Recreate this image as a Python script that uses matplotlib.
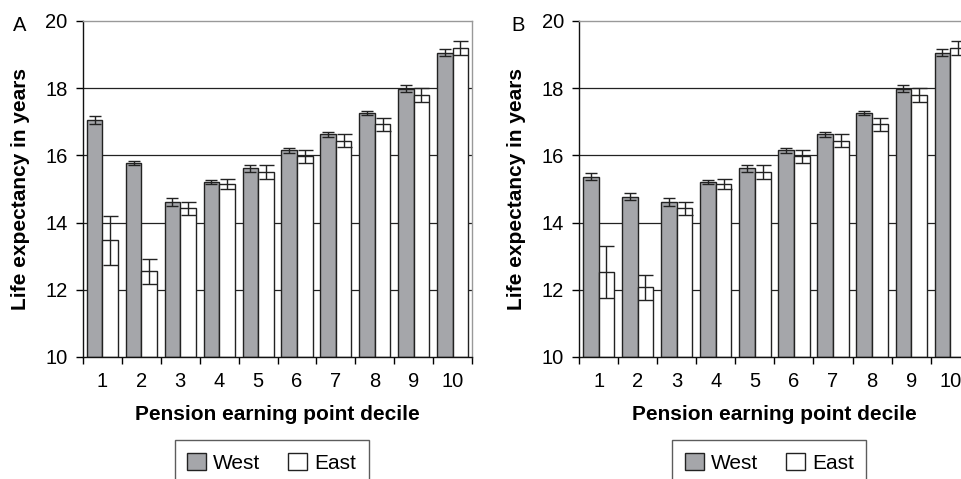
import numpy as np
import matplotlib
matplotlib.use('Agg')
from matplotlib import pyplot as plt

plt.rcParams['font.family'] = ['Liberation Sans', 'DejaVu Sans']

deciles = [1, 2, 3, 4, 5, 6, 7, 8, 9, 10]

# panel A
west_a = [17.05, 15.77, 14.62, 15.22, 15.62, 16.15, 16.63, 17.25, 17.98, 19.06]
west_a_err = [0.11, 0.07, 0.12, 0.06, 0.1, 0.08, 0.08, 0.06, 0.1, 0.1]
east_a = [13.47, 12.55, 14.42, 15.15, 15.5, 15.97, 16.44, 16.92, 17.8, 19.2]
east_a_err = [0.73, 0.38, 0.2, 0.16, 0.2, 0.2, 0.2, 0.19, 0.2, 0.2]

# panel B
west_b = [15.37, 14.77, 14.62, 15.22, 15.62, 16.15, 16.63, 17.25, 17.98, 19.06]
west_b_err = [0.1, 0.1, 0.12, 0.06, 0.1, 0.08, 0.08, 0.06, 0.1, 0.1]
east_b = [12.53, 12.07, 14.42, 15.15, 15.5, 15.97, 16.44, 16.92, 17.8, 19.2]
east_b_err = [0.76, 0.38, 0.2, 0.16, 0.2, 0.2, 0.2, 0.19, 0.2, 0.2]

yticks = [10, 12, 14, 16, 18, 20]
west_color = '#a5a6aa'

fig = plt.figure(figsize=(9.62, 4.79), dpi=100)
ax_a = fig.add_axes([0.0863, 0.2547, 0.4044, 0.7015])
ax_b = fig.add_axes([0.6019, 0.2547, 0.4062, 0.7015])

# letter x position, legend x centre
panels = [(ax_a, 'A', -0.162, 0.4846, west_a, west_a_err, east_a, east_a_err),
          (ax_b, 'B', -0.155, 0.487, west_b, west_b_err, east_b, east_b_err)]

x = np.array(deciles)
w = 0.4
for ax, letter, lx, legx, west, west_err, east, east_err in panels:
    for yv in yticks[1:-1]:
        ax.axhline(yv, color='#222222', linewidth=0.9, zorder=0)
    ax.bar(x - w / 2, np.array(west) - 10, w, bottom=10, color=west_color,
           edgecolor='#222222', linewidth=1.0, label='West', zorder=2)
    ax.bar(x + w / 2, np.array(east) - 10, w, bottom=10, color='white',
           edgecolor='#222222', linewidth=1.0, label='East', zorder=2)
    ax.errorbar(x - w / 2, west, yerr=west_err, fmt='none', ecolor='#222222',
                elinewidth=1.0, capsize=4.2, capthick=1.0, zorder=3)
    ax.errorbar(x + w / 2, east, yerr=east_err, fmt='none', ecolor='#222222',
                elinewidth=1.0, capsize=5.4, capthick=1.0, zorder=3)

    ax.set_xlim(0.5, 10.5)
    ax.set_ylim(10, 20)
    ax.set_yticks(yticks)
    ax.set_xticks(deciles)
    ax.set_xticks(np.arange(0.5, 11, 1), minor=True)
    ax.tick_params(axis='x', which='major', length=0, labelsize=14.5, pad=11)
    ax.tick_params(axis='x', which='minor', length=5, width=1, direction='out')
    ax.tick_params(axis='y', length=5, width=1, direction='out', labelsize=14.5, pad=6)
    for s in ['left', 'bottom']:
        ax.spines[s].set_color('#111111')
        ax.spines[s].set_linewidth(1.0)
    for s in ['top', 'right']:
        ax.spines[s].set_color('#999999')
        ax.spines[s].set_linewidth(1.0)

    ax.set_xlabel('Pension earning point decile', fontsize=15, weight='bold', labelpad=10)
    ax.set_ylabel('Life expectancy in years', fontsize=15, weight='bold', labelpad=11)
    ax.text(lx, 0.988, letter, transform=ax.transAxes, fontsize=14.5,
            ha='center', va='center')

    leg = ax.legend(ncol=2, loc='upper center', bbox_to_anchor=(legx, -0.248),
                    frameon=True, fancybox=False, edgecolor='#333333',
                    fontsize=15, handlelength=0.92, handleheight=0.92,
                    handletextpad=0.32, columnspacing=1.35, borderpad=0.6,
                    borderaxespad=0)
    leg.get_frame().set_linewidth(1.0)

fig.savefig('out.png', dpi=100)
